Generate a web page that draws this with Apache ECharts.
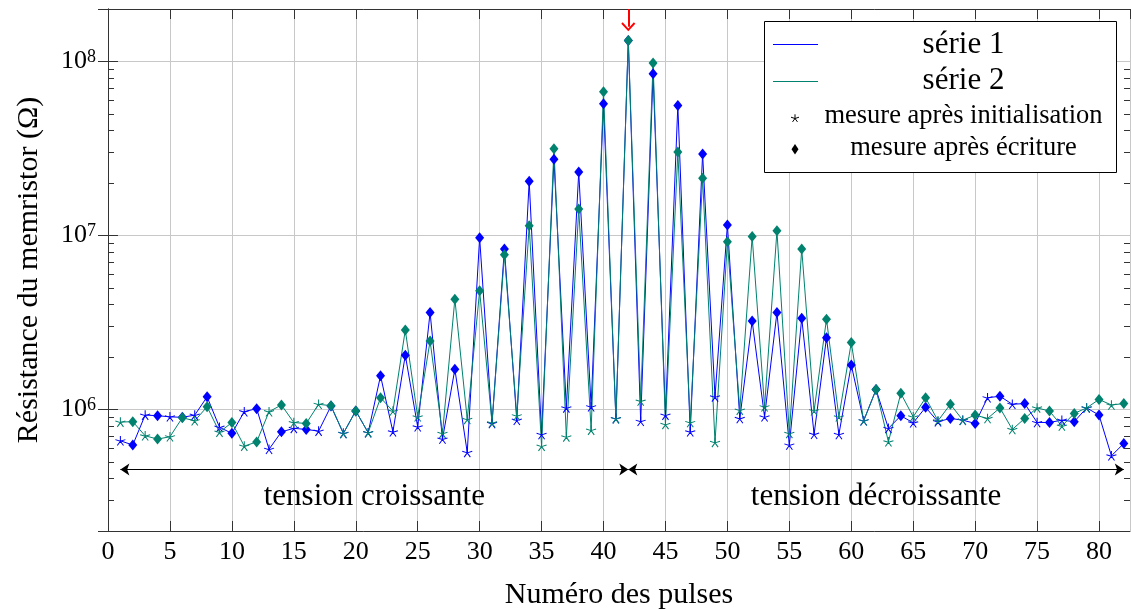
<!DOCTYPE html>
<html><head><meta charset="utf-8">
<script src="https://cdn.jsdelivr.net/npm/echarts@6/dist/echarts.min.js"></script>
<style>html,body{margin:0;padding:0;background:#fff}#c{width:1131px;height:610px}</style>
</head><body><div id="c"></div>
<script>
// ---- data ----
const pulses = [1,2,3,4,5,6,7,8,9,10,11,12,13,14,15,16,17,18,19,20,21,22,23,24,25,26,27,28,29,30,31,32,33,34,35,36,37,38,39,40,41,42,43,44,45,46,47,48,49,50,51,52,53,54,55,56,57,58,59,60,61,62,63,64,65,66,67,68,69,70,71,72,73,74,75,76,77,78,79,80,81,82];
const serie1 = [6.6e5, 6.24e5, 9.27e5, 9.2e5, 9.06e5, 9.0e5, 9.27e5, 1.18e6, 7.9e5, 7.28e5,
  9.7e5, 1.01e6, 5.9e5, 7.43e5, 7.78e5, 7.67e5, 7.5e5, 1.045e6, 7.28e5, 9.8e5,
  7.35e5, 1.56e6, 7.43e5, 2.05e6, 7.94e5, 3.6e6, 6.75e5, 1.7e6, 5.66e5, 9.7e6,
  8.3e5, 8.34e6, 8.67e5, 2.05e7, 7.18e5, 2.74e7, 1.02e6, 2.31e7, 1.035e6, 5.7e7,
  8.85e5, 1.32e8, 8.55e5, 8.5e7, 9.27e5, 5.58e7, 7.43e5, 2.94e7, 1.18e6, 1.148e7,
  8.87e5, 3.22e6, 9.06e5, 3.6e6, 6.24e5, 3.34e6, 7.2e5, 2.58e6, 7.18e5, 1.8e6,
  8.6e5, 1.3e6, 7.78e5, 9.19e5, 8.37e5, 1.027e6, 8.5e5, 8.87e5, 8.67e5, 8.3e5,
  1.166e6, 1.19e6, 1.07e6, 1.08e6, 8.41e5, 8.41e5, 8.67e5, 8.5e5, 1.02e6, 9.27e5,
  5.41e5, 6.37e5];
const serie2 = [8.45e5, 8.5e5, 7.05e5, 6.75e5, 6.96e5, 8.95e5, 8.6e5, 1.035e6, 7.4e5, 8.4e5,
  6.15e5, 6.5e5, 9.7e5, 1.06e6, 8.4e5, 8.3e5, 1.07e6, 1.05e6, 7.28e5, 9.8e5,
  7.35e5, 1.166e6, 9.78e5, 2.86e6, 9.06e5, 2.47e6, 7.28e5, 4.3e6, 8.76e5, 4.8e6,
  8.37e5, 7.73e6, 9.19e5, 1.135e7, 6.15e5, 3.15e7, 6.95e5, 1.42e7, 7.6e5, 6.7e7,
  8.85e5, 1.32e8, 1.116e6, 9.8e7, 8.2e5, 3.01e7, 8.41e5, 2.13e7, 6.46e5, 9.2e6,
  9.9e5, 9.84e6, 1.035e6, 1.062e7, 7.28e5, 8.34e6, 9.82e5, 3.3e6, 9.06e5, 2.42e6,
  8.6e5, 1.3e6, 6.51e5, 1.236e6, 9.06e5, 1.166e6, 8.6e5, 1.07e6, 8.67e5, 9.27e5,
  8.87e5, 1.02e6, 7.67e5, 8.87e5, 1.02e6, 9.78e5, 8.02e5, 9.48e5, 1.02e6, 1.14e6,
  1.06e6, 1.08e6];
const seriesNames = ['série 1', 'série 2'];
const markerNames = ['mesure après initialisation', 'mesure après écriture'];
const phaseLabels = ['tension croissante', 'tension décroissante'];
const phaseBounds = [1, 42, 82];       // pulse numbers delimiting the two phases
const phaseArrowLevel = 4.52e5;        // resistance level of the phase arrows
const peakPulse = 42;
const peakArrowTip = 1.58e8;
const xTitle = 'Numéro des pulses';
const yTitle = 'Résistance du memristor (Ω)';

// ---- styles ----
const FONT = '"Liberation Serif","Times New Roman",serif';
const BLUE = '#0000ff';
const TEAL = '#00826f';
const GRIDC = '#c8c8c8';
const AXC = '#333333';
const STAR = 'path://M0 0L0 -100M0 0L95 -31M0 0L-95 -31M0 0L-59 81M0 0L59 81';
const CHEVRON = 'path://M10 0L20 11L18 13L10 4L2 13L0 11Z';
const YMIN = 2e5, YMAX = 2e8, XMAX = 82.5;

function buildData(vals, color) {
  return pulses.map((p, i) => {
    const init = p % 2 === 1;
    return {
      value: [p, vals[i]],
      symbol: init ? STAR : 'diamond',
      symbolSize: init ? [10, 9.5] : [9, 11],
      itemStyle: init ? {color: color, borderColor: color, borderWidth: 1} : {color: color, borderWidth: 0}
    };
  });
}

const minorLog = [];
for (let e = 5; e <= 8; e++) for (let k = 2; k <= 9; k++) {
  const v = Math.log10(k) + e;
  if (v >= Math.log10(YMIN) - 1e-9 && v <= Math.log10(YMAX) + 1e-9) minorLog.push(v);
}

// legend star icon (5 rays, like the TikZ "star" mark)
const starCx = 795, starCy = 118.5, starR = 4.2;
const legendStar = [90, 18, 162, 234, 306].map(a => ({
  type: 'line', z: 101,
  shape: {x1: starCx, y1: starCy, x2: starCx + starR * Math.cos(a * Math.PI / 180), y2: starCy - starR * Math.sin(a * Math.PI / 180)},
  style: {stroke: '#000', lineWidth: 1}
}));

const chart = echarts.init(document.getElementById('c'), null, {renderer: 'canvas'});
const xBase = {type: 'value', min: 0, max: XMAX, interval: 5,
  axisLine: {show: true, onZero: false, lineStyle: {color: AXC, width: 1}},
  axisTick: {show: true, inside: true, length: 10, lineStyle: {color: AXC}},
  axisPointer: {show: false}};
const yLogBase = {type: 'log', logBase: 10, min: YMIN, max: YMAX,
  axisLine: {show: true, lineStyle: {color: AXC, width: 1}},
  axisTick: {show: true, inside: true, length: 10, lineStyle: {color: AXC}}};
const yMinorBase = {type: 'value', min: Math.log10(YMIN), max: Math.log10(YMAX),
  axisLine: {show: false}, axisLabel: {show: false}, splitLine: {show: false},
  axisTick: {show: true, inside: true, length: 6, customValues: minorLog, lineStyle: {color: AXC}}};

const option = {
  animation: false,
  backgroundColor: '#fff',
  grid: {left: 108, right: 1, top: 9, bottom: 79, containLabel: false, outerBoundsMode: 'none'},
  xAxis: [
    Object.assign({}, xBase, {position: 'bottom',
      axisLabel: {show: true, margin: 8, fontSize: 26, fontFamily: FONT, color: '#000', showMaxLabel: false,
        formatter: v => (Math.abs(v % 5) < 1e-9 ? String(v) : '')},
      splitLine: {show: true, lineStyle: {color: GRIDC, width: 1}},
      name: xTitle, nameLocation: 'middle', nameGap: 49,
      nameTextStyle: {fontSize: 30, fontFamily: FONT, color: '#000'}}),
    Object.assign({}, xBase, {position: 'top', axisLabel: {show: false}, splitLine: {show: false}})
  ],
  yAxis: [
    Object.assign({}, yLogBase, {position: 'left',
      axisLabel: {show: true, margin: 12, color: '#000',
        formatter: v => { const e = Math.log10(v); const r = Math.round(e); return Math.abs(e - r) < 1e-6 ? '{b|10}{s|' + r + '}' : ''; },
        rich: {b: {fontSize: 26, fontFamily: FONT, color: '#000'}, s: {fontSize: 18, fontFamily: FONT, color: '#000', verticalAlign: 'top'}}},
      splitLine: {show: true, lineStyle: {color: GRIDC, width: 1}},
      name: yTitle, nameLocation: 'middle', nameGap: 64,
      nameTextStyle: {fontSize: 30, fontFamily: FONT, color: '#000'}}),
    Object.assign({}, yLogBase, {position: 'right', axisLabel: {show: false}, splitLine: {show: false}}),
    Object.assign({}, yMinorBase, {position: 'left'}),
    Object.assign({}, yMinorBase, {position: 'right'})
  ],
  series: [
    {name: seriesNames[0], type: 'line', xAxisIndex: 0, yAxisIndex: 0, color: BLUE,
      showSymbol: true, showAllSymbol: true, silent: true,
      lineStyle: {color: BLUE, width: 1}, itemStyle: {color: BLUE},
      emphasis: {disabled: true},
      data: buildData(serie1, BLUE),
      markLine: {silent: true, symbol: ['arrow', 'arrow'], symbolSize: [9, 9],
        lineStyle: {color: '#000', width: 1, type: 'solid'},
        label: {show: true, position: 'insideMiddleBottom', distance: 12, formatter: p => p.name,
          fontSize: 31, fontFamily: FONT, color: '#000'},
        emphasis: {disabled: true},
        data: [
          [{name: phaseLabels[0], coord: [phaseBounds[0], phaseArrowLevel]}, {coord: [phaseBounds[1], phaseArrowLevel]}],
          [{name: phaseLabels[1], coord: [phaseBounds[1], phaseArrowLevel]}, {coord: [phaseBounds[2], phaseArrowLevel]}]
        ]}},
    {name: seriesNames[1], type: 'line', xAxisIndex: 0, yAxisIndex: 0, color: TEAL,
      showSymbol: true, showAllSymbol: true, silent: true,
      lineStyle: {color: TEAL, width: 1}, itemStyle: {color: TEAL},
      emphasis: {disabled: true},
      data: buildData(serie2, TEAL),
      markLine: {silent: true, symbol: ['none', CHEVRON], symbolSize: [14, 9],
        lineStyle: {color: '#ff0000', width: 2, type: 'solid'},
        label: {show: false}, emphasis: {disabled: true},
        data: [[{coord: [peakPulse, YMAX]}, {coord: [peakPulse, peakArrowTip]}]]}}
  ],
  graphic: [
    {type: 'rect', z: 100, shape: {x: 764.5, y: 21.5, width: 352, height: 151},
      style: {fill: '#fff', stroke: '#000', lineWidth: 1}},
    {type: 'line', z: 101, shape: {x1: 773, y1: 44.5, x2: 818, y2: 44.5}, style: {stroke: BLUE, lineWidth: 1}},
    {type: 'line', z: 101, shape: {x1: 773, y1: 81.5, x2: 818, y2: 81.5}, style: {stroke: TEAL, lineWidth: 1}},
    {type: 'text', z: 101, style: {text: seriesNames[0], x: 963.5, y: 44.5, align: 'center', verticalAlign: 'middle', fontSize: 31, fontFamily: FONT, fill: '#000'}},
    {type: 'text', z: 101, style: {text: seriesNames[1], x: 963.5, y: 81, align: 'center', verticalAlign: 'middle', fontSize: 31, fontFamily: FONT, fill: '#000'}}
  ].concat(legendStar).concat([
    {type: 'text', z: 101, style: {text: markerNames[0], x: 963.5, y: 116.5, align: 'center', verticalAlign: 'middle', fontSize: 26.5, fontFamily: FONT, fill: '#000'}},
    {type: 'polygon', z: 101, shape: {points: [[795, 144], [798.5, 149.3], [795, 154.6], [791.5, 149.3]]}, style: {fill: '#000'}},
    {type: 'text', z: 101, style: {text: markerNames[1], x: 963.5, y: 148.5, align: 'center', verticalAlign: 'middle', fontSize: 26.5, fontFamily: FONT, fill: '#000'}}
  ])
};
chart.setOption(option);
</script>
</body></html>
